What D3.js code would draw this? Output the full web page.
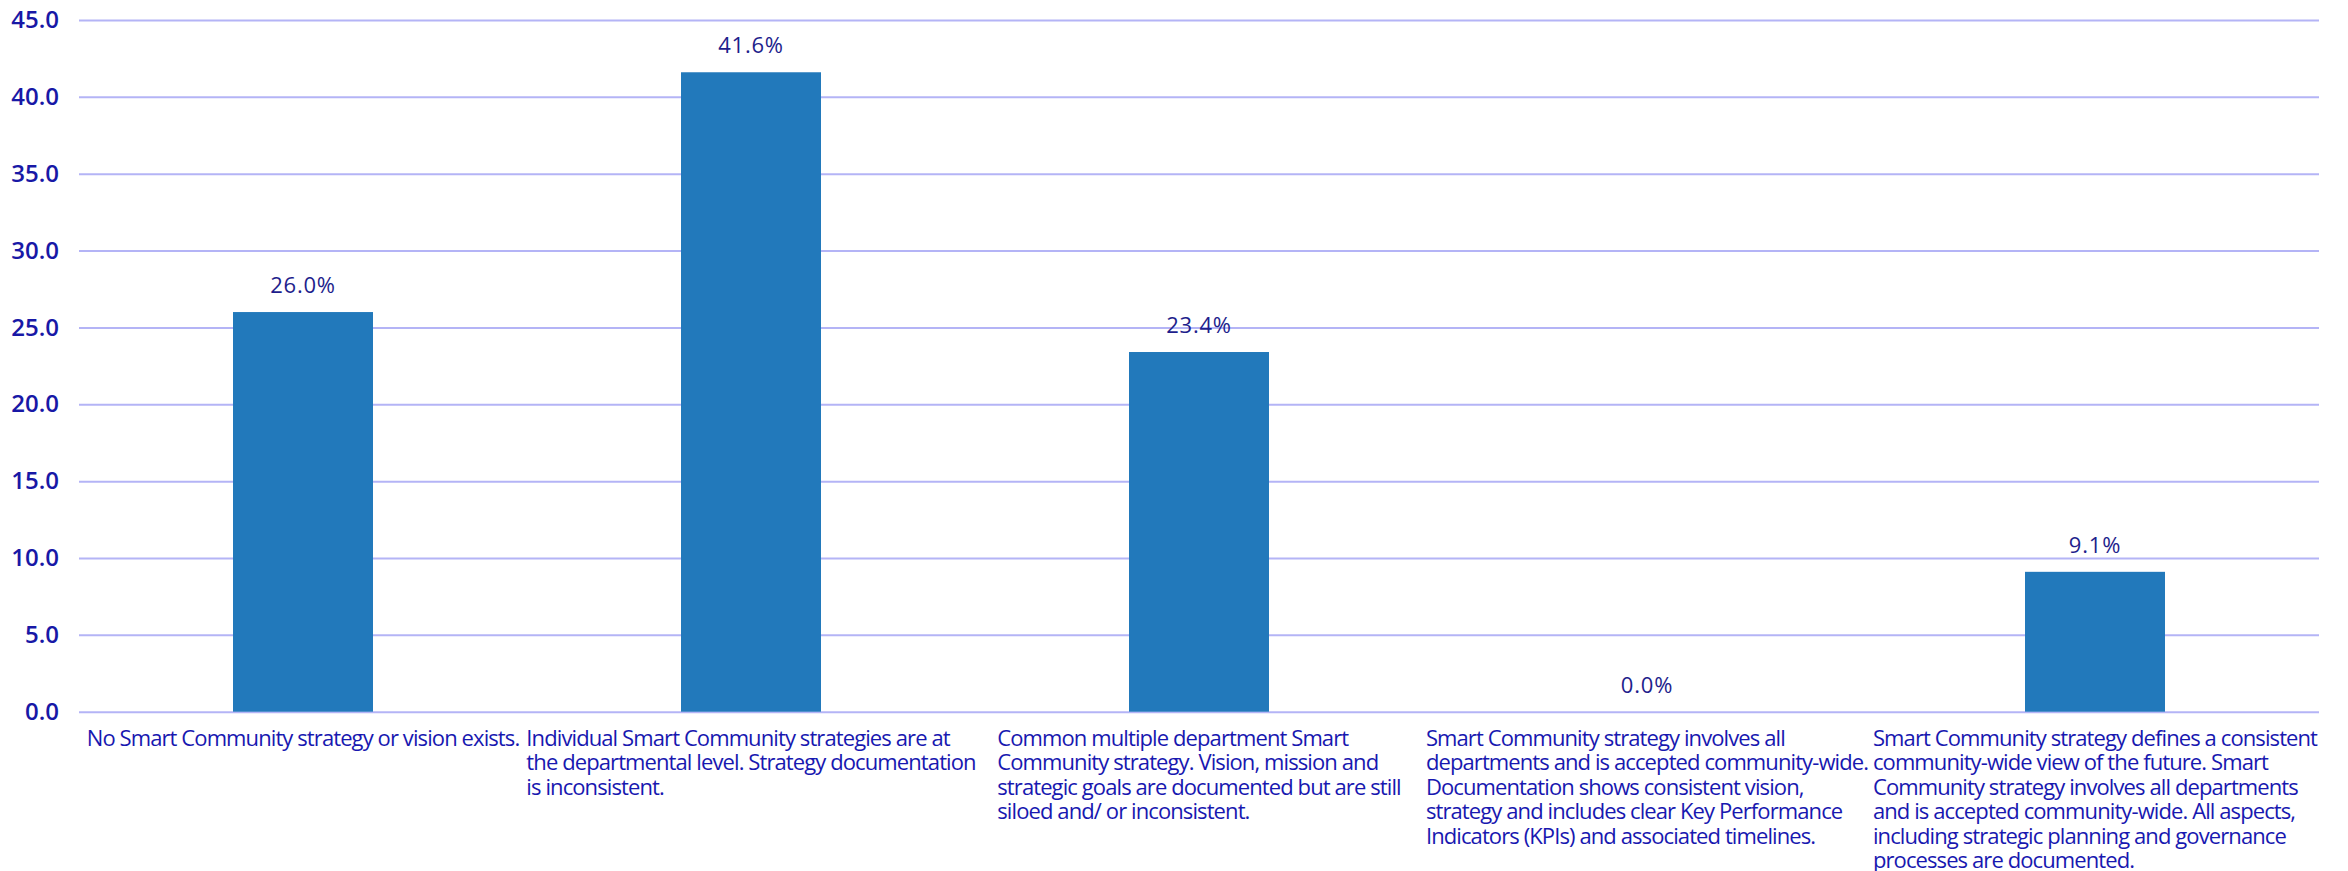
<!DOCTYPE html>
<html>
<head>
<meta charset="utf-8">
<script src="https://cdn.jsdelivr.net/npm/d3@7"></script>
<style>
  html, body { margin: 0; padding: 0; background: #ffffff; }
  svg { display: block; }
</style>
</head>
<body>
<svg id="chart" width="2348" height="871"></svg>
<script>
// Maturity levels of Smart Community strategy (share of respondents, %)
const categories = [
  "No Smart Community strategy or vision exists.",
  "Individual Smart Community strategies are at the departmental level. Strategy documentation is inconsistent.",
  "Common multiple department Smart Community strategy. Vision, mission and strategic goals are documented but are still siloed and/ or inconsistent.",
  "Smart Community strategy involves all departments and is accepted community-wide. Documentation shows consistent vision, strategy and includes clear Key Performance Indicators (KPIs) and associated timelines.",
  "Smart Community strategy defines a consistent community-wide view of the future. Smart Community strategy involves all departments and is accepted community-wide. All aspects, including strategic planning and governance processes are documented."
];

// Line breaks used for each category label
const categoryLines = [
  ["No Smart Community strategy or vision exists."],
  ["Individual Smart Community strategies are at",
   "the departmental level. Strategy documentation",
   "is inconsistent."],
  ["Common multiple department Smart",
   "Community strategy. Vision, mission and",
   "strategic goals are documented but are still",
   "siloed and/ or inconsistent."],
  ["Smart Community strategy involves all",
   "departments and is accepted community-wide.",
   "Documentation shows consistent vision,",
   "strategy and includes clear Key Performance",
   "Indicators (KPIs) and associated timelines."],
  ["Smart Community strategy defines a consistent",
   "community-wide view of the future. Smart",
   "Community strategy involves all departments",
   "and is accepted community-wide. All aspects,",
   "including strategic planning and governance",
   "processes are documented."]
];

const values = [26.0, 41.6, 23.4, 0.0, 9.1];

const yTicks = [0, 5, 10, 15, 20, 25, 30, 35, 40, 45];

const svg = d3.select("#chart");
const plot = { left: 79, right: 2319, top: 20, bottom: 711.7 };

const x = d3.scaleBand()
  .domain(categories)
  .range([plot.left, plot.right])
  .padding(0);

const barWidth = x.bandwidth() * 0.3125;

const y = d3.scaleLinear()
  .domain([0, 45])
  .range([plot.bottom, plot.top]);

// Gridlines and value axis
const yAxis = d3.axisLeft(y)
  .tickValues(yTicks)
  .tickFormat(d3.format(".1f"))
  .tickSize(-(plot.right - plot.left))
  .tickPadding(20);

const gy = svg.append("g")
  .attr("transform", `translate(${plot.left},0)`)
  .call(yAxis);

gy.select(".domain").remove();
gy.selectAll(".tick line")
  .attr("stroke", "#b4b4f6")
  .attr("stroke-width", 2);
gy.selectAll(".tick text")
  .attr("fill", "#1818a6")
  .style("font-family", "'Open Sans', sans-serif")
  .style("font-size", "24px")
  .style("font-weight", 600);

// Bars
svg.append("g")
  .selectAll("rect")
  .data(values)
  .join("rect")
  .attr("x", (d, i) => x(categories[i]) + (x.bandwidth() - barWidth) / 2)
  .attr("width", barWidth)
  .attr("y", d => y(d))
  .attr("height", d => y(0) - y(d))
  .attr("fill", "#2279bb");

// Value labels above bars
svg.append("g")
  .selectAll("text")
  .data(values)
  .join("text")
  .attr("x", (d, i) => x(categories[i]) + x.bandwidth() / 2)
  .attr("y", d => y(d) - 19)
  .attr("text-anchor", "middle")
  .attr("fill", "#1e1e8c")
  .style("font-family", "'Open Sans', sans-serif")
  .style("font-size", "22px")
  .style("letter-spacing", "0.8px")
  .text(d => d3.format(".1f")(d) + "%");

// Category labels: left-aligned lines, block centred in each band
const catG = svg.append("g");
categoryLines.forEach((lines, i) => {
  const t = catG.append("text")
    .attr("fill", "#1818b0")
    .style("font-family", "'Open Sans', sans-serif")
    .style("font-size", "22px")
    .style("letter-spacing", "-0.9px");
  lines.forEach((ln, j) => {
    t.append("tspan")
      .attr("x", 0)
      .attr("y", plot.bottom + 34 + j * 24.5)
      .text(ln);
  });
  const w = d3.max(t.selectAll("tspan").nodes(), n => n.getComputedTextLength());
  const left = x(categories[i]) + (x.bandwidth() - w) / 2;
  t.selectAll("tspan").attr("x", left);
});
</script>
</body>
</html>
